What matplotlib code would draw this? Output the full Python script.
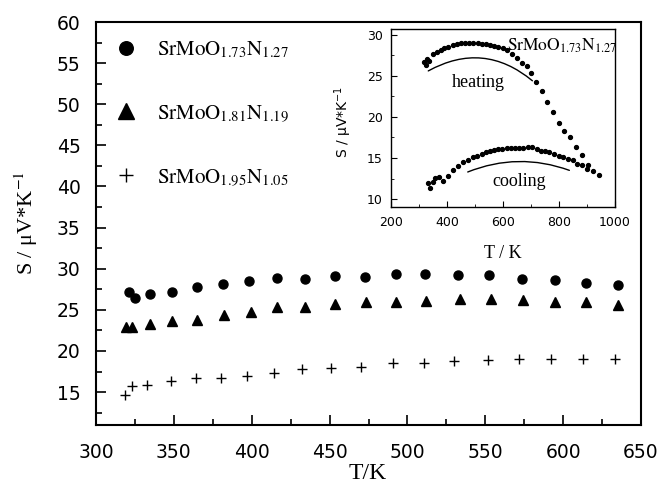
import numpy as np
import matplotlib
matplotlib.use('Agg')
import matplotlib.pyplot as plt
from matplotlib.ticker import MultipleLocator

plt.rcParams['mathtext.fontset'] = 'stix'
plt.rcParams['font.serif'] = ['Liberation Serif', 'DejaVu Serif']

# main panel: S vs T for three compositions
T_a = [321, 325, 334.5, 349, 365, 381.5, 398.5, 416, 434, 453.5, 472.5, 492.5,
       511.5, 532.5, 552.5, 573.5, 594.5, 614.5, 635.5]
S_a = [27.2, 26.4, 26.95, 27.2, 27.75, 28.1, 28.5, 28.9, 28.75, 29.1, 29.05, 29.35,
       29.35, 29.2, 29.2, 28.8, 28.6, 28.25, 28.0]

T_b = [319.5, 323, 334.5, 349, 365, 382, 399.5, 416.5, 434, 453.5, 473.5, 492.5,
       512, 534, 553.5, 574.5, 594.5, 614.5, 635.5]
S_b = [22.9, 22.9, 23.3, 23.6, 23.8, 24.4, 24.7, 25.3, 25.4, 25.65, 25.9, 26.0,
       26.1, 26.3, 26.3, 26.2, 26.0, 25.9, 25.6]

T_c = [318.5, 323, 333, 348, 364, 380, 397, 414.5, 432.5, 451, 470, 490.5,
       510.5, 530, 551.5, 571.5, 592.5, 612.5, 633.5]
S_c = [14.6, 15.8, 15.9, 16.3, 16.7, 16.7, 17.0, 17.3, 17.75, 17.95, 18.1, 18.5,
       18.55, 18.8, 18.9, 19.0, 19.05, 19.0, 19.0]

labels = [r"$\mathrm{SrMoO}_{1.73}\mathrm{N}_{1.27}$",
          r"$\mathrm{SrMoO}_{1.81}\mathrm{N}_{1.19}$",
          r"$\mathrm{SrMoO}_{1.95}\mathrm{N}_{1.05}$"]

# inset: heating / cooling run of SrMoO1.73N1.27
T_heat = [318, 324, 330, 337, 351, 363, 377, 390, 405, 420, 435, 449, 464, 480,
          494, 510, 524, 539, 554, 569, 583, 599, 613, 631, 649, 667, 685, 700,
          717, 738, 758, 780, 801, 819, 838, 862, 882, 902, 922, 943]
S_heat = [26.7, 26.3, 27.0, 26.8, 27.7, 27.95, 28.15, 28.35, 28.5, 28.7, 28.85,
          28.95, 29.0, 29.0, 29.0, 28.95, 28.9, 28.85, 28.75, 28.65, 28.5, 28.35,
          28.1, 27.7, 27.2, 26.6, 26.2, 25.4, 24.3, 23.1, 21.8, 20.6, 19.3, 18.3,
          17.6, 16.4, 15.4, 14.1, 13.4, 12.9]

T_cool = [331, 339, 349, 358, 372, 387, 405, 421, 439, 458, 476, 494, 508, 524,
          539, 554, 569, 583, 598, 613, 628, 643, 658, 673, 689, 704, 720, 735,
          751, 765, 782, 799, 815, 833, 849, 865, 882, 901]
S_cool = [12.0, 11.4, 12.1, 12.6, 12.7, 12.2, 12.85, 13.6, 14.05, 14.5, 14.8,
          15.1, 15.3, 15.5, 15.7, 15.8, 15.95, 16.1, 16.15, 16.17, 16.2, 16.2,
          16.22, 16.25, 16.3, 16.4, 16.1, 15.9, 15.8, 15.7, 15.5, 15.3, 15.1,
          14.9, 14.7, 14.3, 14.1, 13.7]

# guide arcs under the inset curves (start, end)
heat_arc = [(333, 25.6), (705, 24.4)]
cool_arc = [(474, 13.3), (837, 13.5)]

fig = plt.figure(figsize=(6.64, 4.9), dpi=100)
ax = fig.add_axes([0.1446, 0.1327, 0.8208, 0.8224])

ax.plot(T_a, S_a, 'o', color='k', ms=6.5, label=labels[0])
ax.plot(T_b, S_b, '^', color='k', ms=7.5, label=labels[1])
ax.plot(T_c, S_c, '+', color='k', ms=7, mew=1.0, label=labels[2])

ax.set_xlim(300, 650)
ax.set_ylim(11, 60)
ax.xaxis.set_major_locator(MultipleLocator(50))
ax.xaxis.set_minor_locator(MultipleLocator(25))
ax.yaxis.set_major_locator(MultipleLocator(5))
ax.yaxis.set_minor_locator(MultipleLocator(2.5))
ax.tick_params(which='both', direction='in', top=False, right=False, width=1.2)
ax.tick_params(which='major', length=7, labelsize=13.5)
ax.tick_params(axis='x', which='major', pad=13)
ax.tick_params(axis='y', which='major', pad=11)
ax.tick_params(which='minor', length=4)
for sp in ax.spines.values():
    sp.set_linewidth(1.5)

ax.set_xlabel("T/K", family='serif', fontsize=17)
ax.xaxis.set_label_coords(0.499, -0.094)
ax.set_ylabel(r"S / μV*K$^{-1}$", family='serif', fontsize=16)
ax.yaxis.set_label_coords(-0.102, 0.5)

ax.legend(loc='upper left', bbox_to_anchor=(0.036, 0.958), frameon=False,
          fontsize=15, markerscale=1.5, handlelength=1.0, handletextpad=1.0,
          labelspacing=2.05, borderpad=0, borderaxespad=0)

# inset
ax_in = fig.add_axes([0.5889, 0.5769, 0.3373, 0.3639])
ax_in.plot(T_heat, S_heat, 'o', color='k', ms=2.8)
ax_in.plot(T_cool, S_cool, 'o', color='k', ms=2.8)
ax_in.set_xlim(200, 1000)
ax_in.set_ylim(9, 30.7)
ax_in.xaxis.set_major_locator(MultipleLocator(200))
ax_in.xaxis.set_minor_locator(MultipleLocator(100))
ax_in.yaxis.set_major_locator(MultipleLocator(5))
ax_in.yaxis.set_minor_locator(MultipleLocator(2.5))
ax_in.tick_params(which='both', direction='in', top=False, right=False, labelsize=9)
ax_in.tick_params(which='major', length=4, pad=6)
ax_in.tick_params(which='minor', length=2.5)
for sp in ax_in.spines.values():
    sp.set_linewidth(1.0)

ax_in.set_xlabel("T / K", family='serif', fontsize=13)
ax_in.xaxis.set_label_coords(0.5, -0.211)
ax_in.set_ylabel(r"S / μV*K$^{-1}$", fontsize=10, math_fontfamily='dejavusans')
ax_in.yaxis.set_label_coords(-0.165, 0.48)

for arc, rad in [(heat_arc, -0.34), (cool_arc, -0.19)]:
    ax_in.annotate("", xy=arc[1], xytext=arc[0],
                   arrowprops=dict(arrowstyle='-', color='k', lw=1.0,
                                   shrinkA=0, shrinkB=0,
                                   connectionstyle=f"arc3,rad={rad}"))

ax_in.text(513, 24.2, "heating", family='serif', fontsize=13, ha='center', va='center')
ax_in.text(657, 12.2, "cooling", family='serif', fontsize=13, ha='center', va='center')
ax_in.text(614, 28.6, labels[0], fontsize=12.5, ha='left', va='center')

fig.savefig('out.png', dpi=100)
